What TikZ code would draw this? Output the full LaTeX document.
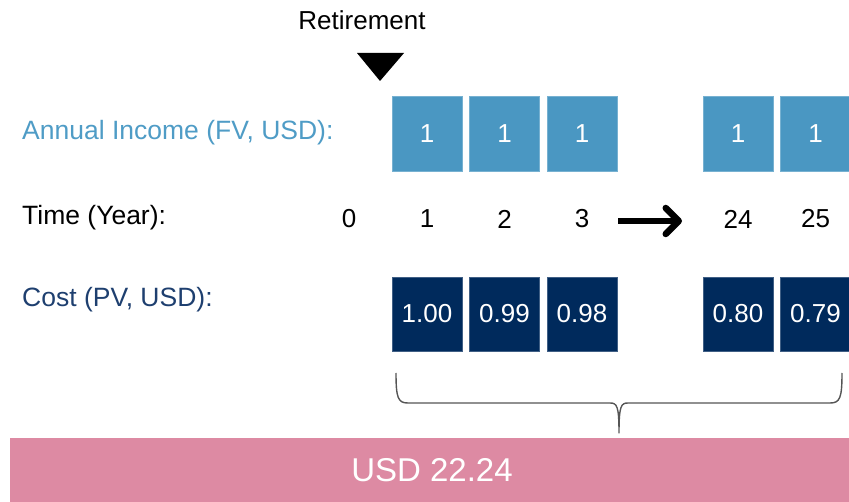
\documentclass[tikz,border=0pt]{standalone}
\usepackage{fontspec}
\setmainfont{Liberation Sans}
\usetikzlibrary{arrows.meta}
\definecolor{incomebox}{HTML}{4A97C2}
\definecolor{incometext}{HTML}{4F9CC6}
\definecolor{costbox}{HTML}{002A5C}
\definecolor{costtext}{HTML}{1E3F6F}
\definecolor{barpink}{HTML}{DD8AA3}
\definecolor{bracegray}{HTML}{555555}
\tikzset{
  lbl/.style={anchor=west, inner sep=0pt, font=\fontsize{26.5}{31}\selectfont},
  yearlbl/.style={inner sep=0pt, font=\fontsize{26}{31}\selectfont},
  incbox/.style={fill=incomebox, draw=incomebox!75!white, line width=0.8pt, minimum width=70pt, minimum height=75pt, inner sep=0pt, text=white, font=\fontsize{26}{31}\selectfont},
  costboxst/.style={fill=costbox, draw=costbox!75!white, line width=0.8pt, minimum width=70pt, minimum height=74pt, inner sep=0pt, text=white, font=\fontsize{26}{31}\selectfont},
}
\begin{document}
\begin{tikzpicture}[x=1pt,y=-1pt]
\useasboundingbox (0,0) rectangle (849,502);
\clip (0,0) rectangle (849,502);
% Retirement marker
\node[yearlbl] (ret) at (362,20) {Retirement};
\fill (357,53) -- (404,53) -- (380,81) -- cycle;
% Row labels
\node[lbl, text=incometext] (linc) at (22,133) {Annual Income (FV, USD):};
\node[lbl] (ltime) at (22,218) {Time (Year):};
\node[lbl, text=costtext] (lcost) at (22,300) {Cost (PV, USD):};
% Income boxes
\node[incbox] (i1) at (427,133.5) {1};
\node[incbox] (i2) at (504.5,133.5) {1};
\node[incbox] (i3) at (582,133.5) {1};
\node[incbox] (i24) at (738,133.5) {1};
\node[incbox] (i25) at (815.5,133.5) {1};
% Years
\node[yearlbl] (t0) at (349,219) {0};
\node[yearlbl] (t1) at (427,219) {1};
\node[yearlbl] (t2) at (504.5,219) {2};
\node[yearlbl] (t3) at (582,219) {3};
\node[yearlbl] (t24) at (738,219) {24};
\node[yearlbl] (t25) at (815.5,219) {25};
\coordinate (as) at (618,221);
\coordinate (ae) at (682,221);
\draw[line width=6.5pt, -{Straight Barb[length=13pt,width=26pt,round]}] (as) -- (ae);
% Cost boxes
\node[costboxst] (c1) at (427,314) {1.00};
\node[costboxst] (c2) at (504.5,314) {0.99};
\node[costboxst] (c3) at (582,314) {0.98};
\node[costboxst] (c24) at (738,314) {0.80};
\node[costboxst] (c25) at (815.5,314) {0.79};
% Brace
\coordinate (bl) at (396,373);
\coordinate (br) at (842,373);
\coordinate (bt) at (619,433);
\draw[bracegray, line width=1.4pt, line join=round]
  (bl) .. controls (396,398) and (398,403) .. (408,403) -- (610,403)
  .. controls (617,403) and (619,406) .. (bt)
  .. controls (619,406) and (621,403) .. (628,403) -- (830,403)
  .. controls (840,403) and (842,398) .. (br);
% Total bar
\fill[barpink] (10,438) rectangle (860,510);
\node[inner sep=0pt, text=white, font=\fontsize{33}{39}\selectfont] (total) at (432,470) {USD 22.24};
\end{tikzpicture}
\end{document}
